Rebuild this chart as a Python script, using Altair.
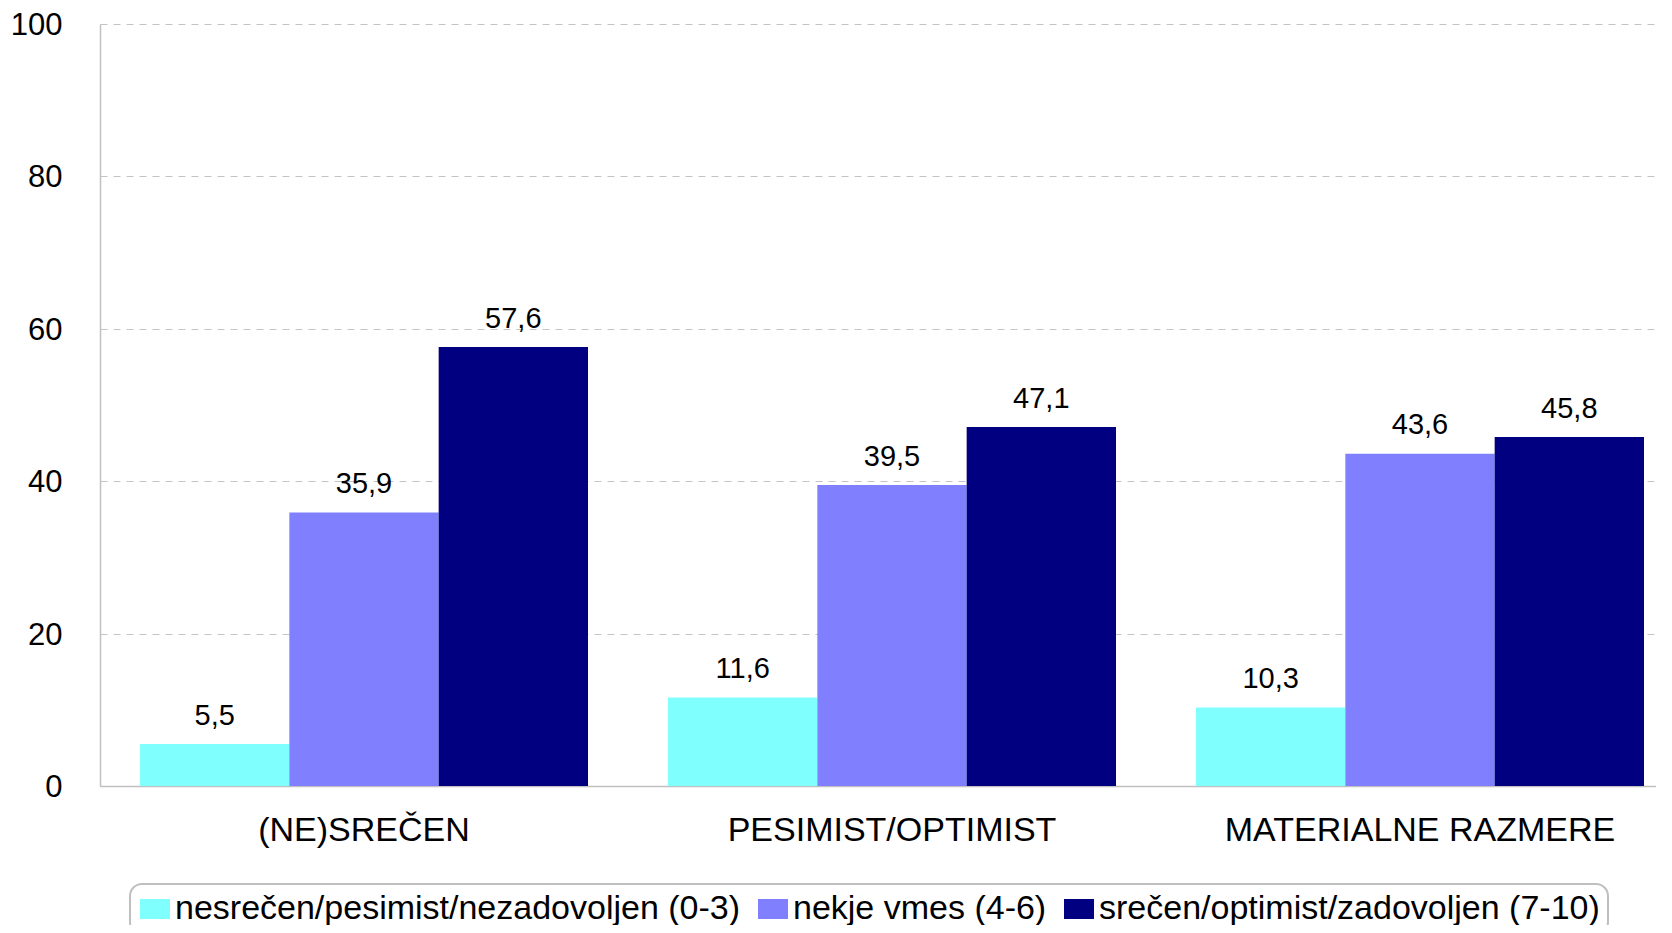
import altair as alt
import pandas as pd

categories = ["(NE)SREČEN", "PESIMIST/OPTIMIST", "MATERIALNE RAZMERE"]
series = [
    "nesrečen/pesimist/nezadovoljen (0-3)",
    "nekje vmes (4-6)",
    "srečen/optimist/zadovoljen (7-10)",
]
colors = ["#80FFFF", "#8080FF", "#000080"]
low = [5.5, 11.6, 10.3]
mid = [35.9, 39.5, 43.6]
high = [57.6, 47.1, 45.8]
y_ticks = [0, 20, 40, 60, 80, 100]

rows = []
for vals, s in zip([low, mid, high], series):
    for c, v in zip(categories, vals):
        rows.append({"cat": c, "series": s, "value": v,
                     "label": f"{v:.1f}".replace(".", ",")})
df = pd.DataFrame(rows)

FONT = "Liberation Sans"

x = alt.X(
    "cat:N", sort=categories,
    scale=alt.Scale(paddingInner=80 / 528, paddingOuter=40 / 528),
    axis=alt.Axis(title=None, labelAngle=0, labelFontSize=34, labelColor="black",
                  labelFont=FONT, ticks=False, labelPadding=27,
                  domainColor="#c0c0c0", domainWidth=1.5, labelLimit=600),
)
xo = alt.XOffset("series:N", sort=series,
                 scale=alt.Scale(paddingInner=0, paddingOuter=0))
y = alt.Y(
    "value:Q",
    scale=alt.Scale(domain=[0, 100], nice=False),
    axis=alt.Axis(values=y_ticks, title=None, labelFontSize=31, labelColor="black",
                  labelFont=FONT, ticks=False, labelPadding=38, labelOffset=1.5,
                  gridDash=[7, 6], gridColor="#c4c4c4", gridWidth=1.2,
                  domainColor="#c0c0c0", domainWidth=1.5),
)

color = alt.Color(
    "series:N", sort=series,
    scale=alt.Scale(domain=series, range=colors),
    legend=alt.Legend(
        orient="none", legendX=30, legendY=860, direction="horizontal",
        title=None, labelFontSize=34, labelFont=FONT, labelColor="black",
        labelLimit=1000, symbolType="M-1.5,-1H1.5V1H-1.5Z", symbolSize=400,
        symbolStrokeWidth=0, symbolOpacity=1, labelOffset=3, columnPadding=15,
        padding=8, strokeColor="#bfbfbf", fillColor="white", cornerRadius=12,
    ),
)

bars = alt.Chart(df).mark_bar().encode(x=x, xOffset=xo, y=y, color=color)
labels = alt.Chart(df).mark_text(
    dy=-19.5, baseline="alphabetic", fontSize=29, font=FONT, color="black"
).encode(x=x, xOffset=xo, y=y, text="label:N")

chart = (
    alt.layer(bars, labels)
    .properties(
        width=1584, height=762,
        autosize=alt.AutoSizeParams(type="none"),
        padding={"left": 92, "top": 16, "right": -28, "bottom": 139},
    )
    .configure_view(stroke=None)
    .configure_legend(strokeWidth=2)
)

chart.save("out.html", embed_options={"renderer": "svg", "actions": False})
